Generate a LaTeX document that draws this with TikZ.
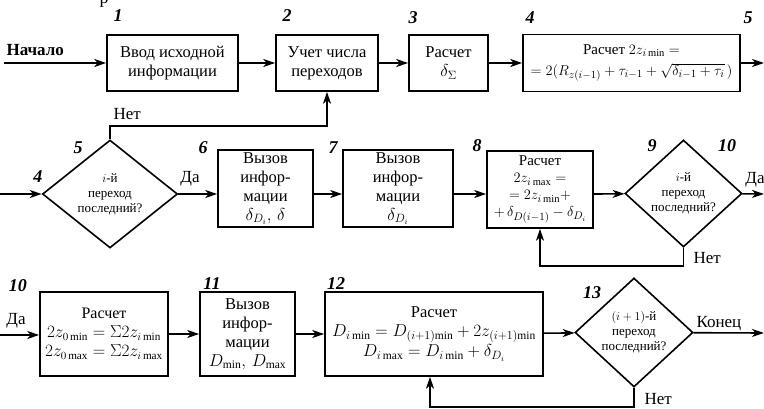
\documentclass[tikz,border=0pt]{standalone}
\usepackage{fontspec}
\setmainfont{Liberation Serif}
\usetikzlibrary{arrows.meta,shapes.geometric}
\tikzset{
  flow/.style={line width=1.6pt,-{Stealth[length=12pt,width=8pt,inset=3.5pt]}},
  blk/.style={draw,line width=1.6pt,align=center,inner sep=1pt,font=\fontsize{16.5}{19}\selectfont},
  small/.style={font=\fontsize{15}{18}\selectfont},
  dec/.style={draw,line width=1.6pt,diamond,aspect=1.25,align=center,inner sep=0pt,font=\fontsize{13}{15}\selectfont},
  num/.style={font=\fontsize{18}{18}\selectfont\bfseries\itshape},
  lbl/.style={font=\fontsize{17}{17}\selectfont}
}
\begin{document}
\begin{tikzpicture}[x=1pt,y=-1pt]
\useasboundingbox (0,0) rectangle (764,409);
% cut-off heading letter at the top edge
\node[anchor=base,font=\fontsize{18}{18}\selectfont] at (104,4) {р};

% ---- first row ----
\coordinate (start) at (4,63);
\node[blk,minimum width=131pt,minimum height=56pt] (b1) at (172.5,63) {Ввод исходной\\информации};
\node[blk,minimum width=102pt,minimum height=56pt] (b2) at (327,63) {Учет числа\\переходов};
\node[blk,minimum width=79pt,minimum height=56pt] (b3) at (448.5,63) {Расчет\\$\delta_{\Sigma}$};
\node[blk,small,minimum width=217pt,minimum height=57pt] (b4) at (631.5,63)
  {Расчет $2z_{i\,\mathrm{min}}=$\\[3pt]$=2\bigl(R_{z(i-1)}+\tau_{i-1}+\sqrt{\delta_{i-1}+\tau_i}\,\bigr)$};
\coordinate (out1) at (764,63);
\node[font=\fontsize{17}{17}\selectfont\bfseries,anchor=base west] at (3,56) {Начало};
\draw[flow] (start) -- (b1);
\draw[flow] (b1) -- (b2);
\draw[flow] (b2) -- (b3);
\draw[flow] (b3) -- (b4);
\draw[flow] (b4) -- (out1);
\node[num] at (118,16) {1};
\node[num] at (287,16) {2};
\node[num] at (413,18) {3};
\node[num] at (530,18) {4};
\node[num] at (748,18) {5};

% ---- second row ----
\coordinate (in2) at (0,194);
\node[dec,minimum width=135pt,minimum height=108pt] (d5) at (110,194) {$i$-й\\переход\\последний?};
\node[blk,minimum width=95pt,minimum height=77pt] (b6) at (265.5,188.5) {Вызов\\инфор-\\мации\\$\delta_{D_i},\,\delta$};
\node[blk,minimum width=110pt,minimum height=77pt] (b7) at (398,188.5) {Вызов\\инфор-\\мации\\$\delta_{D_i}$};
\node[blk,small,minimum width=106pt,minimum height=77pt] (b8) at (540,189.5)
  {Расчет\\[-1pt]$2z_{i\,\mathrm{max}}=$\\[-1pt]$=2z_{i\,\mathrm{min}}+$\\[-1pt]$+\,\delta_{D(i-1)}-\delta_{D_i}$};
\node[dec,minimum width=117pt,minimum height=107pt] (d9) at (683.5,193.5) {$i$-й\\переход\\последний?};
\coordinate (out2) at (764,194);
\draw[flow] (in2) -- (d5);
\draw[flow] (d5) -- (b6.west |- d5);
\draw[flow] (b6.east |- d5) -- (b7.west |- d5);
\draw[flow] (b7.east |- d5) -- (b8.west |- d5);
\draw[flow] (b8.east |- d5) -- (d9);
\draw[flow] (d9) -- (out2);
% "no" branches of the second row
\draw[flow] (d5.north) -- ++(0,-13) -| (b2.south);
\draw[flow] (d9.south) -- ++(0,18) -| (b8.south);
\node[lbl,anchor=base west] at (110,120) {Нет};
\node[lbl,anchor=base] at (190,183) {Да};
\node[lbl,anchor=base] at (755,184) {Да};
\node[lbl,anchor=base west] at (690,263) {Нет};
\node[num] at (38,177) {4};
\node[num] at (78,148) {5};
\node[num] at (203,148) {6};
\node[num] at (333,148) {7};
\node[num] at (477,146) {8};
\node[num] at (652,146) {9};
\node[num] at (727,146) {10};

% ---- third row ----
\coordinate (in3) at (0,335);
\node[blk,font=\fontsize{16}{19}\selectfont,minimum width=128pt,minimum height=84pt] (b10) at (104,334)
  {Расчет\\$2z_{0\,\mathrm{min}}=\Sigma 2z_{i\,\mathrm{min}}$\\$2z_{0\,\mathrm{max}}=\Sigma 2z_{i\,\mathrm{max}}$};
\node[blk,minimum width=95pt,minimum height=84pt] (b11) at (247.5,334) {Вызов\\инфор-\\мации\\$D_{\mathrm{min}},\,D_{\mathrm{max}}$};
\node[blk,minimum width=218pt,minimum height=84pt] (b12) at (434,334)
  {Расчет\\$D_{i\,\mathrm{min}}=D_{(i+1)\mathrm{min}}+2z_{(i+1)\mathrm{min}}$\\[1pt]$D_{i\,\mathrm{max}}=D_{i\,\mathrm{min}}+\delta_{D_i}$};
\node[dec,minimum width=118pt,minimum height=109pt] (d13) at (634,332.5) {$(i+1)$-й\\переход\\последний?};
\coordinate (out3) at (764,333);
\draw[flow] (in3) -- (b10.west |- in3);
\draw[flow] (b10) -- (b11);
\draw[flow] (b11) -- (b12);
\draw[flow] (b12) -- (d13);
\draw[flow] (d13) -- (out3);
\draw[flow] (d13.south) -- ++(0,19) -| (b12.south -| 430,0);
\node[lbl,anchor=base] at (16,324) {Да};
\node[lbl,anchor=base west] at (693,327) {Конец};
\node[lbl,anchor=base west] at (641,404) {Нет};
\node[num] at (18,286) {10};
\node[num] at (212,284) {11};
\node[num] at (336,284) {12};
\node[num] at (592,293) {13};
\end{tikzpicture}
\end{document}
